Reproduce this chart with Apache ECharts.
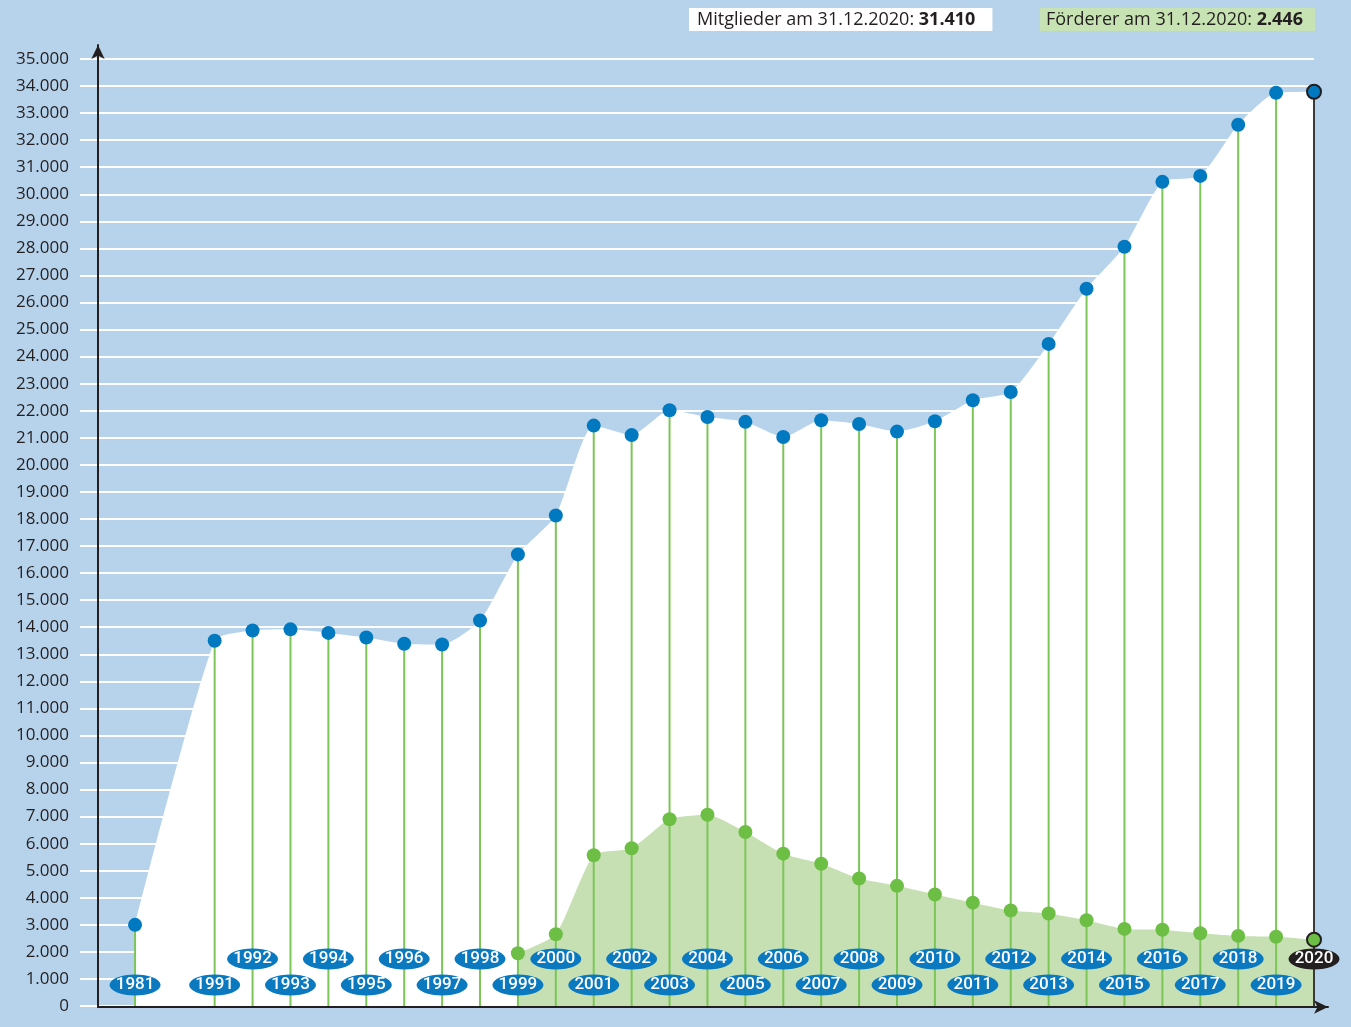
<!DOCTYPE html>
<html>
<head>
<meta charset="utf-8">
<title>Mitglieder und Förderer</title>
<script src="https://cdn.jsdelivr.net/npm/echarts@6/dist/echarts.min.js"></script>
<style>
  html, body { margin: 0; padding: 0; background: #b7d3ec; }
  #chart { width: 1351px; height: 1027px; }
</style>
</head>
<body>
<div id="chart"></div>
<script>
// years on the x axis (gap between 1981 and 1991)
const years = [1981, 1991, 1992, 1993, 1994, 1995, 1996, 1997, 1998, 1999, 2000,
    2001, 2002, 2003, 2004, 2005, 2006, 2007, 2008, 2009, 2010,
    2011, 2012, 2013, 2014, 2015, 2016, 2017, 2018, 2019, 2020];

// Mitglieder
const members = [3000, 13500, 13880, 13920, 13790, 13620, 13390, 13360, 14250, 16690, 18130,
    21450, 21100, 22020, 21770, 21590, 21030, 21650, 21510, 21230, 21610,
    22390, 22690, 24470, 26510, 28060, 30460, 30680, 32570, 33750, 33790];

// Förderer from 1999 on
const supporterFirstYear = 1999;
const supporters = [1950, 2650, 5570, 5830, 6900, 7070, 6430, 5630, 5260, 4710, 4440,
    4120, 3820, 3530, 3420, 3170, 2850, 2820, 2690, 2590, 2560, 2450];

const yTicks = { min: 0, max: 35000, step: 1000 };

const membersNote = 'Mitglieder am 31.12.2020: ';
const membersTotal = '31.410';
const supportersNote = 'Förderer am 31.12.2020: ';
const supportersTotal = '2.446';

// slot on the x axis: a wider break between 1981 and 1991
const gapSlots = 2.1;
const slot = i => (i === 0 ? 0 : i - 1 + gapSlots);
const lastIndex = years.length - 1;

const memberData = members.map((v, i) => [slot(i), v]);
const firstSup = years.indexOf(supporterFirstYear);
const supporterData = supporters.map((v, i) => [slot(firstSup + i), v]);

const dark = '#231f20';
const dotBlue = '#0079c1';
const green = '#6dbe45';

function thousands(v) {
    return String(v).replace(/\B(?=(\d{3})+(?!\d))/g, '.');
}

const chart = echarts.init(document.getElementById('chart'));

const boxText = {
    fontFamily: 'Open Sans', fontSize: 18, fontWeight: 'normal', color: dark,
    rich: { b: { fontFamily: 'Open Sans', fontSize: 18, fontWeight: 'bold', color: dark } }
};

const option = {
    backgroundColor: '#b7d3ec',
    animation: false,
    title: [
        {
            text: membersNote + '{b|' + membersTotal + '}',
            left: 689, top: 8,
            backgroundColor: '#ffffff',
            padding: [3, 17, 2, 8],
            textStyle: boxText
        },
        {
            text: supportersNote + '{b|' + supportersTotal + '}',
            left: 1040, top: 8,
            backgroundColor: '#c8e3b3',
            padding: [3, 12, 2, 6],
            textStyle: boxText
        }
    ],
    grid: [
        // plot area
        { left: 80, right: 37, top: 59, bottom: 21 },
        // only for the arrowed axes
        { left: 98, right: 23, top: 45, bottom: 20 }
    ],
    xAxis: [
        { type: 'value', gridIndex: 0, min: -1.452, max: slot(lastIndex), show: false },
        {
            type: 'value', gridIndex: 1, min: 0, max: 1, z: 10,
            axisLine: { show: true, symbol: ['none', 'arrow'], symbolSize: [10, 14], lineStyle: { color: dark, width: 2 } },
            axisTick: { show: false }, axisLabel: { show: false }, splitLine: { show: false }
        }
    ],
    yAxis: [
        {
            type: 'value', gridIndex: 0, min: yTicks.min, max: yTicks.max, interval: yTicks.step,
            axisLine: { show: false }, axisTick: { show: false },
            axisLabel: {
                margin: 11, color: dark, fontFamily: 'Open Sans', fontSize: 17,
                formatter: v => thousands(v)
            },
            splitLine: { show: true, lineStyle: { color: '#ffffff', width: 2 } }
        },
        {
            type: 'value', gridIndex: 1, min: 0, max: 1, z: 10,
            axisLine: { show: true, symbol: ['none', 'arrow'], symbolSize: [10, 14], lineStyle: { color: dark, width: 2 } },
            axisTick: { show: false }, axisLabel: { show: false }, splitLine: { show: false }
        }
    ],
    series: [
        {
            name: 'Mitglieder Fläche', type: 'line', z: 1,
            data: memberData, smooth: 0.2, showSymbol: false, silent: true,
            lineStyle: { width: 0 },
            areaStyle: { color: '#ffffff', opacity: 1 }
        },
        {
            name: 'Förderer Fläche', type: 'line', z: 2,
            data: supporterData, smooth: 0.2, showSymbol: false, silent: true,
            lineStyle: { width: 0 },
            areaStyle: { color: '#c6e0b3', opacity: 1 }
        },
        {
            name: 'Linien', type: 'custom', z: 3, silent: true,
            data: memberData,
            renderItem: function (params, api) {
                const top = api.coord([api.value(0), api.value(1)]);
                const bottom = api.coord([api.value(0), 0]);
                const isLast = params.dataIndex === lastIndex;
                return {
                    type: 'line',
                    shape: { x1: top[0], y1: top[1], x2: bottom[0], y2: bottom[1] },
                    style: { stroke: isLast ? '#3a3a3a' : '#7cc657', lineWidth: 2 }
                };
            }
        },
        {
            name: 'Jahre', type: 'scatter', z: 4, silent: true,
            data: years.map((y, i) => ({
                value: [slot(i), 0],
                symbolOffset: [0, y % 2 === 0 ? -47 : -21],
                itemStyle: { color: i === lastIndex ? dark : '#0a79bf' }
            })),
            symbol: 'circle', symbolSize: [51, 21],
            itemStyle: { opacity: 1 },
            label: {
                show: true, position: 'inside', color: '#ffffff',
                fontFamily: 'Roboto', fontSize: 17, fontWeight: 500,
                formatter: p => String(years[p.dataIndex])
            }
        },
        {
            name: 'Förderer', type: 'scatter', z: 5,
            data: supporterData.map((d, i) => i === supporterData.length - 1
                ? { value: d, itemStyle: { color: green, borderColor: dark, borderWidth: 2, opacity: 1 } }
                : d),
            symbolSize: 14,
            itemStyle: { color: green, opacity: 1 }
        },
        {
            name: 'Mitglieder', type: 'scatter', z: 5,
            data: memberData.map((d, i) => i === lastIndex
                ? { value: d, itemStyle: { color: dotBlue, borderColor: dark, borderWidth: 2, opacity: 1 } }
                : d),
            symbolSize: 14,
            itemStyle: { color: dotBlue, opacity: 1 }
        }
    ]
};

chart.setOption(option);
</script>
</body>
</html>
